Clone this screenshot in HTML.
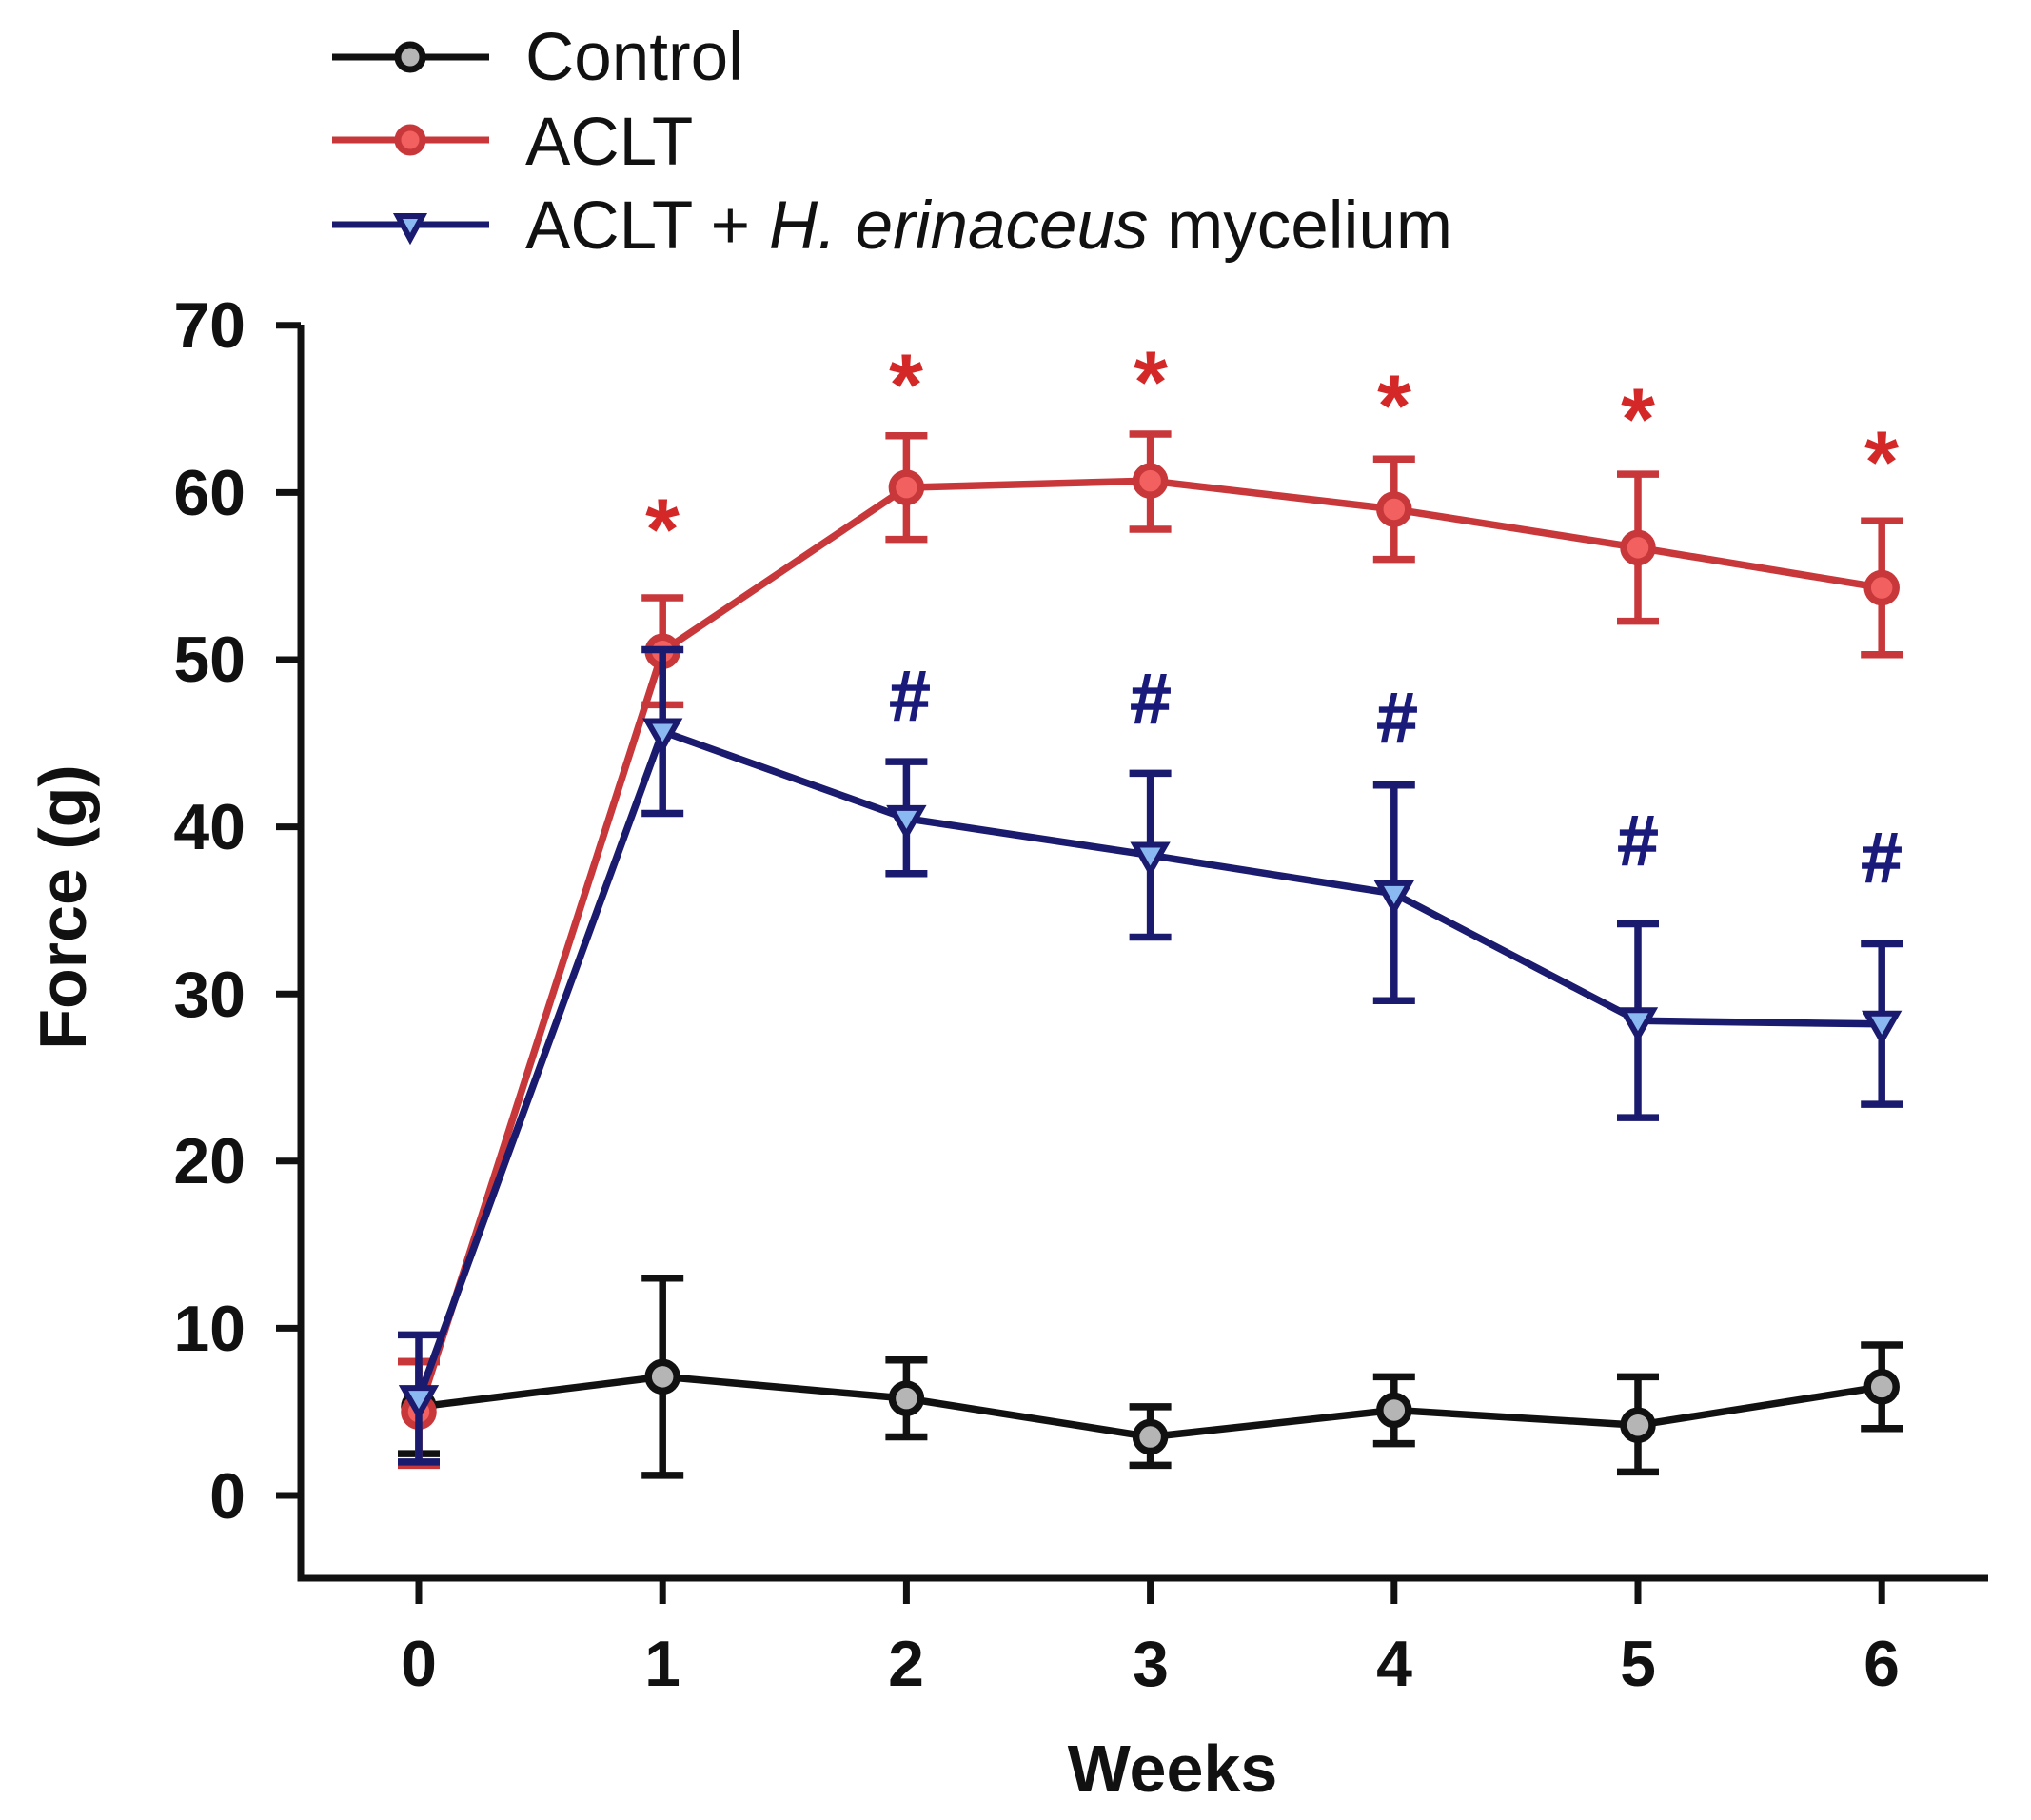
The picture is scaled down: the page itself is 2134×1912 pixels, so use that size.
<!DOCTYPE html>
<html><head><meta charset="utf-8"><style>
html,body{margin:0;padding:0;background:#fff;}
svg{display:block;}
text{font-family:"Liberation Sans",Arial,sans-serif;}
</style></head><body>
<svg id="s" width="2134" height="1912" viewBox="0 0 2134 1912" xmlns="http://www.w3.org/2000/svg">
<rect width="2134" height="1912" fill="#fff"/>
<g stroke-width="7">
<line x1="349" y1="60" x2="514" y2="60" stroke="#111"/>
<circle cx="431" cy="60" r="13" fill="#b5b5b5" stroke="#111"/>
<line x1="349" y1="147" x2="514" y2="147" stroke="#c8373a"/>
<circle cx="431" cy="147" r="13" fill="#f26060" stroke="#c8373a"/>
<line x1="349" y1="236" x2="514" y2="236" stroke="#1a1a6e"/>
<polygon points="418,227 444,227 431,251" fill="#8ab8f0" stroke="#1a1a6e" stroke-width="6"/>
</g>
<g font-size="71" fill="#111">
<text x="552" y="84">Control</text>
<text x="552" y="173">ACLT</text>
<text x="552" y="261">ACLT + <tspan font-style="italic">H. erinaceus</tspan> mycelium</text>
</g>
<g stroke="#111" stroke-width="7" fill="none">
<polyline points="316,341 316,1658 2089,1658"/>
</g>
<g id="ticks" stroke="#111" stroke-width="7"></g>
<g font-size="68" font-weight="bold" fill="#111" text-anchor="end">
<text x="258" y="365">70</text>
<text x="258" y="541">60</text>
<text x="258" y="716">50</text>
<text x="258" y="892">40</text>
<text x="258" y="1068">30</text>
<text x="258" y="1243">20</text>
<text x="258" y="1419">10</text>
<text x="258" y="1595">0</text>
</g>
<g font-size="68" font-weight="bold" fill="#111" text-anchor="middle">
<text x="440" y="1771">0</text>
<text x="696" y="1771">1</text>
<text x="952" y="1771">2</text>
<text x="1209" y="1771">3</text>
<text x="1465" y="1771">4</text>
<text x="1721" y="1771">5</text>
<text x="1977" y="1771">6</text>
<text x="1232" y="1882" font-size="70">Weeks</text>
<text transform="translate(90,953) rotate(-90)" font-size="70">Force (g)</text>
</g>
<g id="data"></g>
<g font-size="92" font-weight="bold" fill="#d42828" text-anchor="middle">
<text x="696" y="588">*</text>
<text x="952" y="436">*</text>
<text x="1209" y="433">*</text>
<text x="1465" y="458">*</text>
<text x="1721" y="472">*</text>
<text x="1977" y="517">*</text>
</g>
<g font-size="72" fill="#1a1a7a" text-anchor="middle" stroke="#1a1a7a" stroke-width="2.5">
<text x="956" y="756">#</text>
<text x="1209" y="759">#</text>
<text x="1468" y="779">#</text>
<text x="1721" y="908">#</text>
<text x="1977" y="926">#</text>
</g>
</svg>
<script>
const NS="http://www.w3.org/2000/svg";
const X=i=>440+i*256.2, Y=v=>1571-17.56*v;
function el(p,t,a){const e=document.createElementNS(NS,t);for(const k in a)e.setAttribute(k,a[k]);p.appendChild(e);return e;}
const tk=document.getElementById('ticks');
for(let v=0;v<=70;v+=10)el(tk,'line',{x1:290,x2:316,y1:Y(v),y2:Y(v)});
for(let i=0;i<7;i++)el(tk,'line',{x1:X(i),x2:X(i),y1:1658,y2:1685});
const d=document.getElementById('data');
const series=[
 {c:'#111',f:'#b5b5b5',m:'c',v:[[5.3,2.5,8],[7.1,1.2,13],[5.8,3.5,8.1],[3.5,1.8,5.3],[5.1,3.1,7.1],[4.2,1.4,7.1],[6.5,4,9]]},
 {c:'#c8373a',f:'#f26060',m:'c',v:[[5,1.8,8],[50.5,47.3,53.7],[60.3,57.2,63.4],[60.7,57.8,63.5],[59,56,62],[56.7,52.3,61.1],[54.3,50.3,58.3]]},
 {c:'#1a1a6e',f:'#8ab8f0',m:'t',v:[[5.8,2,9.6],[45.7,40.8,50.6],[40.5,37.2,43.9],[38.3,33.4,43.2],[36,29.6,42.5],[28.4,22.6,34.2],[28.2,23.4,33]]}
];
for(const s of series){
 const g=el(d,'g',{stroke:s.c,'stroke-width':7.5,fill:'none'});
 for(let i=0;i<7;i++){const [m,lo,hi]=s.v[i];const x=X(i);
  el(g,'line',{x1:x,x2:x,y1:Y(lo),y2:Y(hi)});
  el(g,'line',{x1:x-22,x2:x+22,y1:Y(lo),y2:Y(lo)});
  el(g,'line',{x1:x-22,x2:x+22,y1:Y(hi),y2:Y(hi)});}
 el(g,'polyline',{points:s.v.map((p,i)=>X(i)+','+Y(p[0])).join(' ')});
 for(let i=0;i<7;i++){const x=X(i),y=Y(s.v[i][0]);
  if(s.m=='c')el(g,'circle',{cx:x,cy:y,r:15,fill:s.f});
  else el(g,'polygon',{points:`${x-16},${y-11} ${x+16},${y-11} ${x},${y+17}`,fill:s.f,'stroke-width':6});}
}
</script>
</body></html>
